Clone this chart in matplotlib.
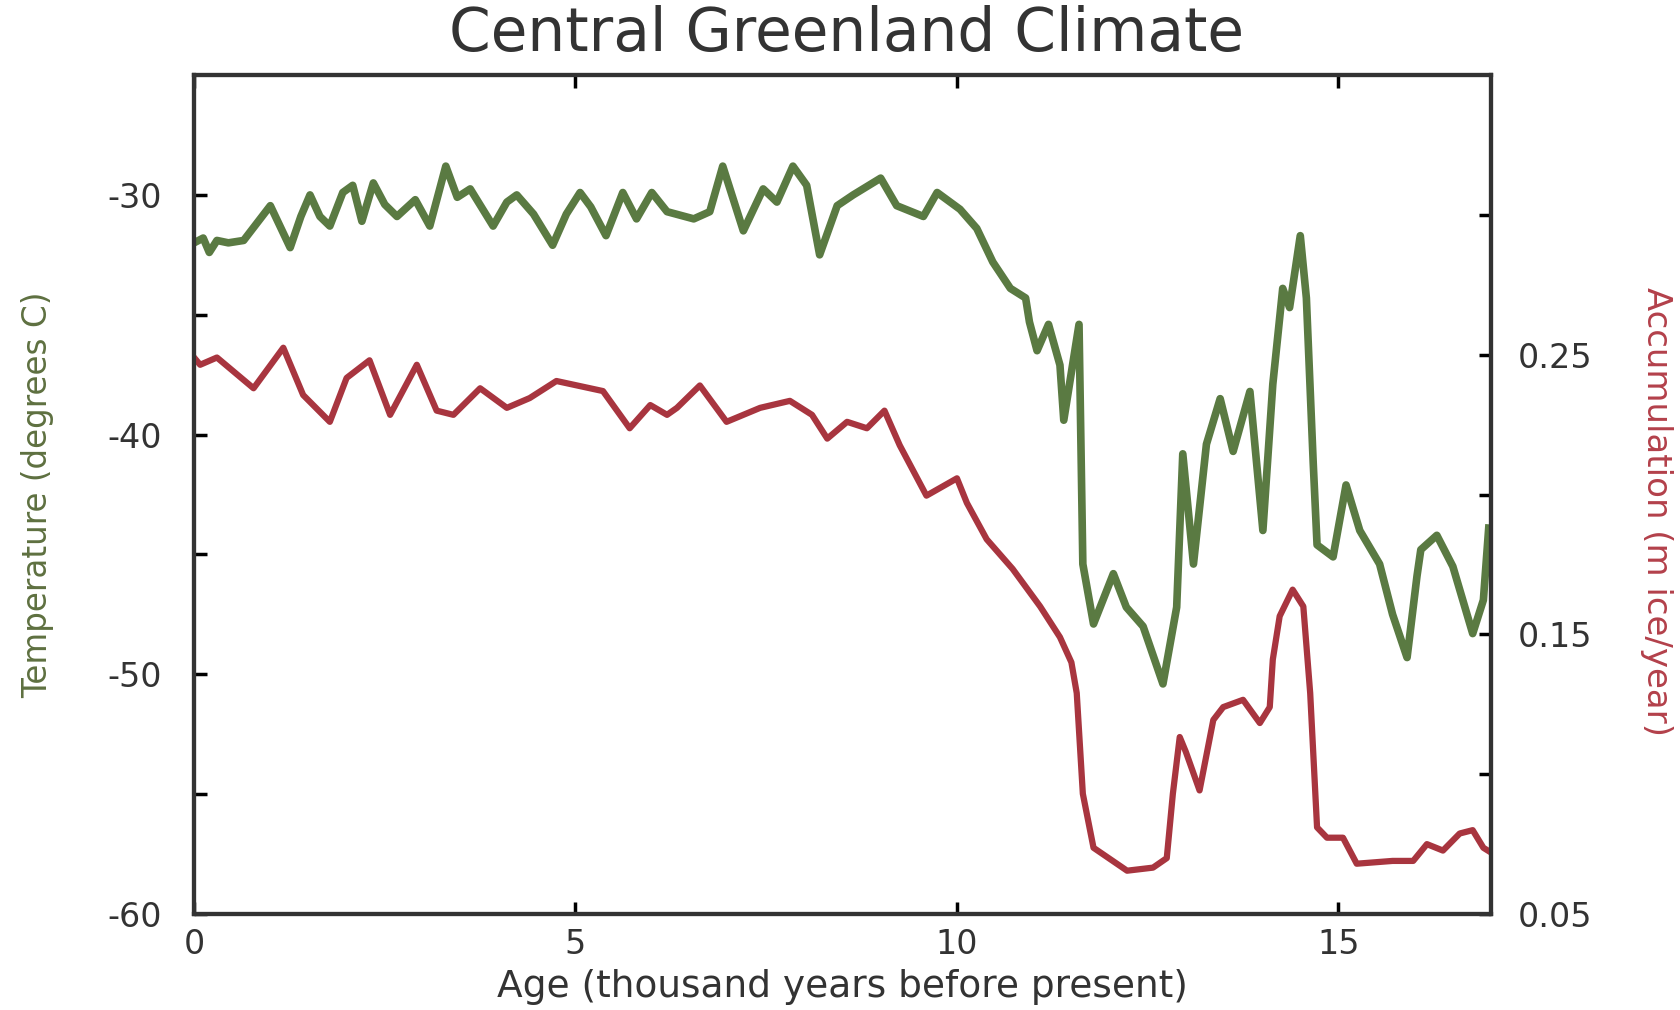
import numpy as np
import matplotlib.pyplot as plt

plt.rcParams['axes.unicode_minus'] = False

# temperature record (degrees C) vs age (kyr before present)
temp_age = [0.0, 0.12, 0.2, 0.3, 0.45, 0.65, 1.0, 1.26, 1.4, 1.52, 1.65, 1.78, 1.95, 2.08,
            2.2, 2.35, 2.5, 2.66, 2.9, 3.09, 3.3, 3.45, 3.62, 3.92, 4.1, 4.23, 4.45,
            4.7, 4.88, 5.06, 5.2, 5.4, 5.62, 5.8, 6.0,
            6.2, 6.55, 6.76, 6.93, 7.2, 7.46, 7.64, 7.85, 8.03, 8.2, 8.43, 8.64,
            9.0, 9.21, 9.56, 9.74, 10.04, 10.26, 10.47, 10.7, 10.9, 10.95, 11.05,
            11.2, 11.35, 11.4, 11.6, 11.65, 11.79, 12.05, 12.22, 12.44, 12.7,
            12.88, 12.96, 13.1, 13.27, 13.45, 13.62, 13.84, 14.01, 14.14, 14.27,
            14.36, 14.5, 14.58, 14.67, 14.72, 14.93, 15.1, 15.28, 15.54, 15.71,
            15.9, 16.03, 16.08, 16.29, 16.5, 16.76, 16.9, 16.97]
temp = [-32.0, -31.8, -32.4, -31.9, -32.0, -31.9, -30.45, -32.2, -30.9, -30.0, -30.9, -31.3, -29.9, -29.6,
        -31.1, -29.5, -30.4, -30.9, -30.2, -31.3, -28.8, -30.1, -29.75, -31.3, -30.3, -30.0, -30.8,
        -32.1, -30.8, -29.9, -30.5, -31.7, -29.9, -31.0, -29.9,
        -30.7, -31.0, -30.7, -28.8, -31.5, -29.75, -30.3, -28.8, -29.6, -32.5, -30.45, -30.0,
        -29.3, -30.45, -30.9, -29.9, -30.6, -31.4, -32.8, -33.9, -34.3, -35.3, -36.5,
        -35.4, -37.1, -39.4, -35.4, -45.4, -47.9, -45.8, -47.2, -48.0, -50.4,
        -47.2, -40.8, -45.4, -40.4, -38.5, -40.7, -38.2, -44.0, -37.9, -33.9,
        -34.7, -31.7, -34.3, -41.2, -44.6, -45.1, -42.1, -44.0, -45.4, -47.5,
        -49.3, -45.9, -44.8, -44.2, -45.5, -48.3, -46.9, -43.9]

# snow accumulation (m ice/year) vs age
acc_age = [0.0, 0.08, 0.3, 0.78, 1.17, 1.43, 1.78, 2.0, 2.3, 2.57, 2.92, 3.18,
           3.4, 3.75, 4.1, 4.4, 4.75, 5.36, 5.71, 5.98, 6.2, 6.33, 6.63, 6.98,
           7.42, 7.81, 8.1, 8.3, 8.56, 8.82, 9.05, 9.25, 9.6, 10.0, 10.13, 10.39,
           10.73, 11.09, 11.35, 11.5, 11.57, 11.65, 11.79, 12.23, 12.57, 12.75,
           12.83, 12.92, 13.0, 13.18, 13.36, 13.49, 13.75, 13.97, 14.1, 14.14,
           14.23, 14.4, 14.54, 14.63, 14.72, 14.85, 15.06, 15.24, 15.71, 15.98,
           16.16, 16.37, 16.59, 16.76, 16.9, 17.0]
acc = [0.249, 0.2464, 0.249, 0.238, 0.2525, 0.2356, 0.226, 0.2417, 0.248, 0.2285, 0.2464, 0.230,
       0.2285, 0.238, 0.231, 0.2345, 0.2406, 0.237, 0.2237, 0.232, 0.2285, 0.231, 0.239, 0.226,
       0.231, 0.2335, 0.2285, 0.220, 0.226, 0.2237, 0.230, 0.2176, 0.1996, 0.2058, 0.197, 0.184,
       0.1734, 0.160, 0.149, 0.140, 0.129, 0.093, 0.0737, 0.0655, 0.0666, 0.070,
       0.093, 0.1133, 0.108, 0.0942, 0.1194, 0.124, 0.1266, 0.1183, 0.124, 0.141,
       0.1565, 0.166, 0.160, 0.129, 0.081, 0.0773, 0.0773, 0.068, 0.069, 0.069,
       0.075, 0.0727, 0.0788, 0.080, 0.0737, 0.072]

x_ticks = [0, 5, 10, 15]
temp_ticks = [-60, -50, -40, -30]
acc_ticks = [0.05, 0.15, 0.25]
acc_tick_labels = ['0.05', '0.15', '0.25']

green = '#5a7a42'
red = '#a8353f'
ink = '#333333'

fig = plt.figure(figsize=(16.8, 10.1), dpi=100)
ax = fig.add_axes([0.1155, 0.095, 0.772, 0.8307])
ax2 = ax.twinx()

ax.plot(temp_age, temp, color=green, lw=5.5)
ax2.plot(acc_age, acc, color=red, lw=4.5)

ax.set_xlim(0, 17)
ax.set_ylim(-60, -25)
ax2.set_ylim(0.05, 0.35)

ax.set_xticks(x_ticks)
ax.set_yticks(temp_ticks)
ax.set_yticks([-55, -45, -35], minor=True)
ax2.set_yticks(acc_ticks)
ax2.set_yticklabels(acc_tick_labels)
ax2.set_yticks([0.10, 0.20, 0.30], minor=True)

ax.tick_params(axis='x', which='both', direction='in', length=9, width=2.5,
               top=True, labelsize=24, labelcolor=ink, pad=10)
ax.tick_params(axis='y', which='both', direction='in', length=9, width=2.5,
               labelsize=24, labelcolor=ink, pad=23)
ax2.tick_params(axis='y', which='both', direction='in', length=9, width=2.5,
                labelsize=24, labelcolor=ink, pad=19)

for a in (ax, ax2):
    for s in a.spines.values():
        s.set_linewidth(3)
        s.set_color(ink)

ax.set_xlabel('Age (thousand years before present)', fontsize=27, color=ink)
ax.xaxis.set_label_coords(0.5, -0.066)
ax.set_ylabel('Temperature (degrees C)', fontsize=23.5, color='#5e7040')
ax.yaxis.set_label_coords(-0.108, 0.5)
ax2.set_ylabel('Accumulation (m ice/year)', fontsize=24.5, color='#b3404a',
               rotation=270, va='bottom')
ax2.yaxis.set_label_coords(1.115, 0.48)

fig.text(0.504, 0.966, 'Central Greenland Climate', ha='center', va='center',
         fontsize=43, color=ink)

fig.savefig('out.png', dpi=100)
